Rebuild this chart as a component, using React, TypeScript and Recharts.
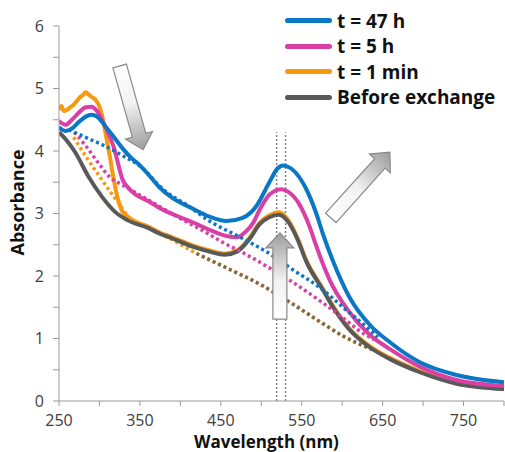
import React from "react";
import { LineChart, Line, XAxis, YAxis, ReferenceLine, Legend, Label } from "recharts";

// wavelength (nm) / absorbance readings per curve
const nmBlue = [250, 258, 266, 275, 283, 290, 297, 307, 318, 328, 340, 350, 362, 374, 390, 415, 436, 457, 477, 494, 510, 520, 527, 537, 556, 568, 576, 588, 609, 634, 659, 696, 740, 800];
const absBlue = [4.38, 4.32, 4.36, 4.47, 4.55, 4.58, 4.55, 4.4, 4.22, 4.05, 3.88, 3.77, 3.6, 3.42, 3.25, 3.08, 2.95, 2.88, 2.93, 3.12, 3.5, 3.72, 3.77, 3.72, 3.38, 3.0, 2.68, 2.26, 1.66, 1.22, 0.94, 0.62, 0.42, 0.3];

const nmPink = [250, 258, 266, 275, 283, 290, 297, 305, 312, 318, 323, 328, 335, 345, 360, 380, 400, 415, 436, 457, 470, 480, 490, 498, 510, 525, 533, 546, 560, 568, 576, 584, 609, 634, 659, 696, 740, 800];
const absPink = [4.48, 4.42, 4.5, 4.62, 4.7, 4.71, 4.64, 4.45, 4.25, 4.05, 3.8, 3.56, 3.42, 3.3, 3.2, 3.05, 2.94, 2.86, 2.74, 2.64, 2.62, 2.7, 2.85, 3.06, 3.3, 3.39, 3.35, 3.17, 2.78, 2.48, 2.2, 1.95, 1.42, 1.06, 0.83, 0.55, 0.34, 0.24];

const nmOrange = [250, 253, 256, 260, 264, 268, 272, 276, 280, 283, 287, 291, 295, 299, 303, 307, 313, 318, 323, 328, 335, 360, 374, 390, 415, 436, 455, 470, 486, 498, 510, 522, 533, 546, 555, 576, 584, 609, 634, 659, 696, 740, 800];
const absOrange = [4.66, 4.72, 4.64, 4.66, 4.7, 4.74, 4.8, 4.86, 4.9, 4.94, 4.9, 4.86, 4.82, 4.74, 4.58, 4.32, 3.9, 3.52, 3.22, 3.04, 2.95, 2.79, 2.7, 2.62, 2.49, 2.41, 2.36, 2.41, 2.62, 2.85, 2.97, 3.02, 2.9, 2.57, 2.27, 1.8, 1.62, 1.16, 0.88, 0.69, 0.48, 0.29, 0.2];

const nmGray = [250, 260, 270, 286, 303, 319, 335, 360, 374, 390, 415, 436, 455, 470, 486, 498, 510, 522, 533, 546, 555, 576, 584, 609, 634, 659, 696, 740, 800];
const absGray = [4.3, 4.16, 3.98, 3.6, 3.27, 3.03, 2.89, 2.77, 2.68, 2.6, 2.47, 2.39, 2.34, 2.39, 2.6, 2.83, 2.94, 2.98, 2.87, 2.55, 2.25, 1.78, 1.6, 1.14, 0.86, 0.67, 0.46, 0.28, 0.19];

// dotted baselines
const nmBlueBase = [262, 286, 307, 328, 350, 380, 410, 436, 477, 510, 539, 576, 601, 634, 644];
const absBlueBase = [4.34, 4.2, 4.08, 3.93, 3.76, 3.37, 3.12, 2.88, 2.6, 2.36, 2.1, 1.78, 1.5, 1.14, 1.02];
const nmPinkBase = [264, 282, 298, 313, 328, 360, 400, 430, 448, 482, 510, 539, 576, 601, 625, 640];
const absPinkBase = [4.37, 4.1, 3.82, 3.58, 3.46, 3.22, 2.92, 2.71, 2.57, 2.34, 2.13, 1.9, 1.57, 1.33, 1.09, 0.98];
const nmOrangeBase = [268, 286, 303, 316, 322, 335, 360, 390, 420, 457, 498, 539, 576, 601, 634, 645];
const absOrangeBase = [4.22, 3.86, 3.54, 3.3, 3.2, 2.96, 2.77, 2.58, 2.36, 2.13, 1.87, 1.55, 1.24, 1.04, 0.84, 0.78];
const nmGrayBase = [420, 457, 498, 539, 576, 601, 634, 645];
const absGrayBase = [2.36, 2.13, 1.87, 1.55, 1.24, 1.04, 0.84, 0.78];

const xTicks = [250, 300, 350, 400, 450, 500, 550, 600, 650, 700, 750, 800];
const yTicks = [0, 0.5, 1, 1.5, 2, 2.5, 3, 3.5, 4, 4.5, 5, 5.5, 6];
const legendOrder = ["t = 47 h", "t = 5 h", "t = 1 min", "Before exchange"];

// annotations: peak markers and arrows (tail -> tip)
const peakLines = [519, 530];
const peakLineTop = 4.3;
const arrows = [
  { id: "arrA", from: { x: 325, y: 5.36 }, to: { x: 354, y: 4.02 } },
  { id: "arrB", from: { x: 586, y: 2.93 }, to: { x: 659, y: 3.98 } },
  { id: "arrC", from: { x: 523, y: 1.31 }, to: { x: 523, y: 2.69 } },
];

const BLUE = "#0a76c6";
const PINK = "#d93fa4";
const ORANGE = "#f7980f";
const GRAY = "#595959";
const FONT = "'Open Sans', Lato, sans-serif";

const toPoints = (nm: number[], v: number[]) => nm.map((x, i) => ({ nm: x, v: v[i] }));

const arrowShape = (gid: string) => (p: any) => {
  const { x1, y1, x2, y2 } = p;
  const len = Math.hypot(x2 - x1, y2 - y1);
  const ang = (Math.atan2(y2 - y1, x2 - x1) * 180) / Math.PI;
  const sw = 7, hw = 14, hl = 15;
  const pts = [[0, -sw], [len - hl, -sw], [len - hl, -hw], [len, 0], [len - hl, hw], [len - hl, sw], [0, sw]]
    .map((q) => q.join(","))
    .join(" ");
  return (
    <g transform={`translate(${x1},${y1}) rotate(${ang})`}>
      <defs>
        <linearGradient id={gid} x1="0" y1="0" x2="1" y2="0">
          <stop offset="0" stopColor="#ffffff" />
          <stop offset="0.45" stopColor="#f2f2f2" />
          <stop offset="1" stopColor="#9c9c9c" />
        </linearGradient>
      </defs>
      <polygon points={pts} fill={`url(#${gid})`} stroke="#8a8a8a" strokeWidth={1.2} />
    </g>
  );
};

const renderLegend = (props: any) => {
  const items = (props.payload || [])
    .filter((e: any) => legendOrder.includes(e.value))
    .sort((a: any, b: any) => legendOrder.indexOf(a.value) - legendOrder.indexOf(b.value));
  return (
    <div>
      {items.map((e: any) => (
        <div key={e.value} style={{ display: "flex", alignItems: "center", height: 25.5 }}>
          <div style={{ width: 47, height: 5, borderRadius: 3, background: e.color, marginRight: 5 }} />
          <span style={{ fontFamily: FONT, fontWeight: 700, fontSize: 19, color: "#111", whiteSpace: "nowrap" }}>{e.value}</span>
        </div>
      ))}
    </div>
  );
};

const dotted = { strokeWidth: 3.5, strokeDasharray: "3 3", dot: false, legendType: "none" as const, isAnimationActive: false, type: "monotone" as const };
const solid = { strokeWidth: 4, dot: false, isAnimationActive: false, type: "monotone" as const };

export default function App() {
  return (
    <div style={{ position: "absolute", left: 0, top: 0, width: 505, height: 452, background: "#fff" }}>
      <LineChart width={505} height={452} margin={{ top: 26, right: 1, bottom: 0, left: 0 }}>
        <XAxis
          dataKey="nm"
          type="number"
          domain={[250, 800]}
          ticks={xTicks}
          interval={0}
          allowDataOverflow
          height={51}
          stroke="#9a9a9a"
          tickSize={5}
          tickMargin={9}
          tick={{ fill: "#404040", fontSize: 16, fontFamily: FONT }}
          tickFormatter={(v: number) => ((v - 250) % 100 === 0 && v < 800 ? String(v) : "")}
        >
          <Label
            content={({ viewBox }: any) => (
              <text x={viewBox.x + viewBox.width / 2 - 15} y={viewBox.y + 47} textAnchor="middle" fontFamily={FONT} fontWeight={700} fontSize={17} fill="#111">
                Wavelength (nm)
              </text>
            )}
          />
        </XAxis>
        <YAxis
          type="number"
          domain={[0, 6]}
          ticks={yTicks}
          interval={0}
          width={59}
          stroke="#9a9a9a"
          tickSize={6}
          tickMargin={9}
          tick={{ fill: "#404040", fontSize: 16, fontFamily: FONT }}
          tickFormatter={(v: number) => (Number.isInteger(v) ? String(v) : "")}
        >
          <Label
            content={({ viewBox }: any) => {
              const cx = viewBox.x + 17;
              const cy = viewBox.y + viewBox.height / 2 - 11;
              return (
                <text x={cx} y={cy} transform={`rotate(-90 ${cx} ${cy})`} textAnchor="middle" dominantBaseline="central" fontFamily={FONT} fontWeight={700} fontSize={18} fill="#111">
                  Absorbance
                </text>
              );
            }}
          />
        </YAxis>

        {peakLines.map((x) => (
          <ReferenceLine key={x} segment={[{ x, y: 0 }, { x, y: peakLineTop }]} stroke="#808080" strokeWidth={1.5} strokeDasharray="2 2" />
        ))}

        <Line data={toPoints(nmOrangeBase, absOrangeBase)} dataKey="v" name="t = 1 min baseline" stroke={ORANGE} {...dotted} />
        <Line data={toPoints(nmGrayBase, absGrayBase)} dataKey="v" name="Before exchange baseline" stroke={GRAY} strokeOpacity={0.75} {...dotted} />
        <Line data={toPoints(nmOrange, absOrange)} dataKey="v" name="t = 1 min" stroke={ORANGE} {...solid} />
        <Line data={toPoints(nmGray, absGray)} dataKey="v" name="Before exchange" stroke={GRAY} {...solid} />
        <Line data={toPoints(nmPinkBase, absPinkBase)} dataKey="v" name="t = 5 h baseline" stroke={PINK} {...dotted} />
        <Line data={toPoints(nmPink, absPink)} dataKey="v" name="t = 5 h" stroke={PINK} {...solid} />
        <Line data={toPoints(nmBlueBase, absBlueBase)} dataKey="v" name="t = 47 h baseline" stroke={BLUE} {...dotted} />
        <Line data={toPoints(nmBlue, absBlue)} dataKey="v" name="t = 47 h" stroke={BLUE} {...solid} />

        {arrows.map((a) => (
          <ReferenceLine key={a.id} segment={[a.from, a.to]} shape={arrowShape(a.id)} />
        ))}

        <Legend layout="horizontal" verticalAlign="middle" align="center" wrapperStyle={{ top: 8, left: 285, width: 220 }} content={renderLegend} />
      </LineChart>
    </div>
  );
}
